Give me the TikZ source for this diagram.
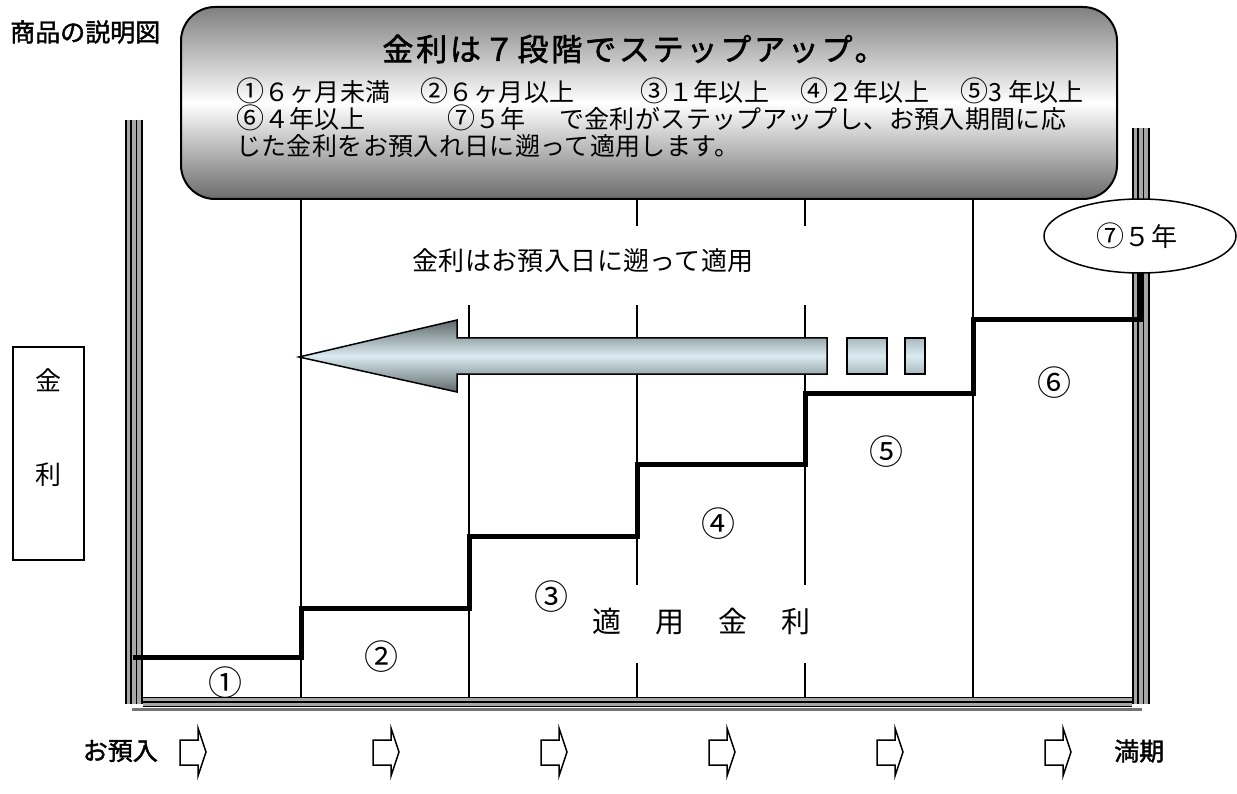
\documentclass[tikz,border=0pt]{standalone}
\usepackage{fontspec}
\newfontfamily\jp{Noto Sans CJK JP}
\newfontfamily\jpls[LetterSpace=1.5]{Noto Sans CJK JP}
\newfontfamily\jpwide[LetterSpace=118]{Noto Sans CJK JP}
\newfontfamily\jpbold[FakeBold=1.6]{Noto Sans CJK JP}
\newfontfamily\jptitle[FakeBold=1.8,LetterSpace=9]{Noto Sans CJK JP}
\newcommand\myfs[1]{\fontsize{#1}{#1}\selectfont}
\newcommand\cn[1]{\smash{\myfs{28}#1}}
\newcommand\seg[2]{\makebox[#1pt][l]{#2}}
\definecolor{arrdark}{RGB}{95,105,108}
\definecolor{arrlight}{RGB}{218,235,241}
\definecolor{sqedge}{RGB}{170,186,191}
\begin{document}
\begin{tikzpicture}[x=1pt,y=-1pt,
  thin/.style={line width=1.6pt},
  stepline/.style={line width=5pt,line join=miter},
  wallline/.style={line width=1.7pt},
  body/.style={font=\jpls\myfs{25}, inner sep=0pt, text height=18pt, text depth=4pt},
  circ/.style={font=\jp\myfs{34}, inner sep=0pt},
  boldlab/.style={font=\jpbold\myfs{25}, inner sep=0pt},
  smallarrow/.style={draw, line width=1.5pt, fill=white, line join=miter}]
\useasboundingbox (0,0) rectangle (1237,794);

% heading
\node[boldlab, anchor=west] (head) at (10,32) {商品の説明図};

% top rounded box
\path[draw, line width=2pt, rounded corners=34pt, top color=black!50, bottom color=black!58, middle color=white]
  (181,7) rectangle (1117,199);
\node[font=\jptitle\myfs{31}, inner sep=0pt] (title) at (634,49) {金利は７段階でステップアップ。};
\node[body, anchor=west] (l1) at (236,95) {\seg{184}{\cn{①}６ヶ月未満}\seg{220}{\cn{②}６ヶ月以上}\seg{160}{\cn{③}１年以上}\seg{160}{\cn{④}２年以上}\cn{⑤}3 年以上};
\node[body, anchor=west] (l2) at (236,122) {\seg{211}{\cn{⑥}４年以上}\seg{112}{\cn{⑦}５年}で金利がステップアップし、お預入期間に応};
\node[body, anchor=west] (l3) at (236,149) {じた金利をお預入れ日に遡って適用します。};

% walls
\fill[black!35] (125,120) rectangle (143,704);
\foreach \x in {126,131,136.5,142} \draw[wallline] (\x,120) -- (\x,704);
\fill[black!35] (1132,128) rectangle (1150,704);
\foreach \x in {1133,1138,1143.5,1149} \draw[wallline] (\x,128) -- (\x,704);
\fill[black!35] (143,697) rectangle (1132,707);
\foreach \y in {697.5,702,706.5} \draw[wallline] (143,\y) -- (1132,\y);
\fill[black!55] (132,707.5) rectangle (1142,710.5);

% vertical period lines
\draw[thin] (301,199) -- (301,697);
\draw[thin] (469,305) -- (469,697);
\draw[thin] (637,199) -- (637,226) (637,305) -- (637,585) (637,663) -- (637,697);
\draw[thin] (805,199) -- (805,226) (805,305) -- (805,585) (805,663) -- (805,697);
\draw[thin] (973,199) -- (973,697);

% texts in chart
\node[body, font=\jpls\myfs{26}] (retro) at (583,264) {金利はお預入日に遡って適用};
\node[font=\jpwide\myfs{29}, inner sep=0pt, anchor=west] (applied) at (592,622) {適用金利};

% big arrow
\path[draw, line width=1.5pt, line join=miter, top color=arrdark, bottom color=arrdark, middle color=arrlight]
  (299,357) -- (457,320) -- (457,338) -- (827,338) -- (827,374) -- (457,374) -- (457,392) -- cycle;
\path[draw, line width=1.5pt, top color=sqedge, bottom color=sqedge, middle color=arrlight]
  (847,338) rectangle (887,374);
\path[draw, line width=1.5pt, top color=sqedge, bottom color=sqedge, middle color=arrlight]
  (905,338) rectangle (925,374);

% step line
\draw[stepline] (133,657) -- (301,657) -- (301,608) -- (469,608) -- (469,536) -- (637,536)
  -- (637,464) -- (805,464) -- (805,393) -- (973,393) -- (973,320) -- (1141,320) -- (1141,236);

% circled numbers
\node[circ] (n1) at (225,683) {①};
\node[circ] (n2) at (381,657) {②};
\node[circ] (n3) at (551,597) {③};
\node[circ] (n4) at (718,524) {④};
\node[circ] (n5) at (886,452) {⑤};
\node[circ] (n6) at (1054,383) {⑥};

% ellipse
\draw[line width=1.5pt, fill=white] (1140,236) ellipse [x radius=96, y radius=37];
\node[body, font=\jpls\myfs{26}] (n7) at (1137,240) {\cn{⑦}５年};

% left label box
\draw[line width=2pt] (13,347) rectangle (84,560);
\node[font=\jp\myfs{26}, inner sep=0pt] (k1) at (48,380) {金};
\node[font=\jp\myfs{26}, inner sep=0pt] (k2) at (48,475) {利};

% bottom labels and arrows
\node[boldlab, anchor=east] (start) at (158,751) {お預入};
\node[boldlab, anchor=west] (end) at (1114,751) {満期};
\foreach \x in {180,373,541,709,877,1045}
  \draw[smallarrow] (\x,740) -- (\x+18,740) -- (\x+18,728) -- (\x+26,752) -- (\x+18,776) -- (\x+18,765) -- (\x,765) -- cycle;
\end{tikzpicture}
\end{document}
